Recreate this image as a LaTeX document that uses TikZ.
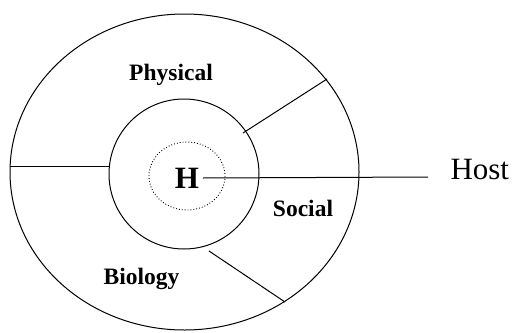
\documentclass[tikz,border=0pt]{standalone}
\usepackage{fontspec}
\setmainfont{Liberation Serif}
\usetikzlibrary{positioning}

\begin{document}
\begin{tikzpicture}[x=1pt,y=-1pt,line width=1pt,
    zone/.style={font=\fontsize{23.5}{28}\selectfont\bfseries,anchor=base},
    big/.style={font=\fontsize{31}{36}\selectfont}]
        \useasboundingbox (0,0) rectangle (513,332);

        \coordinate (O) at (184.5,172);
        \coordinate (I) at (184,174);
        \draw (O) ellipse [x radius=174.5, y radius=158];
        \draw (I) circle (75);
        \draw[dotted,line width=0.9pt] (187,176) ellipse [x radius=38, y radius=34];

        % borders between the zones
        \coordinate (L1) at (10,166);
        \coordinate (L2) at (109,166);
        \coordinate (R1) at (243,133);
        \coordinate (R2) at (327,79);
        \coordinate (B1) at (209,251);
        \coordinate (B2) at (285,302);
        \draw (L1)--(L2);
        \draw (R1)--(R2);
        \draw (B1)--(B2);

        \node[zone] (phys) at (171,80) {Physical};
        \node[zone] (soc) at (303,216) {Social};
        \node[zone] (bio) at (141.5,284) {Biology};

        \node[big,font=\fontsize{31}{36}\selectfont\bfseries] (H) at (187,178) {H};
        \coordinate (hostend) at (428,177);
        \draw (H.east)--(hostend);
        \node[big,anchor=base west] (host) at (446.7,179) {Host};
    \end{tikzpicture}
\end{document}
